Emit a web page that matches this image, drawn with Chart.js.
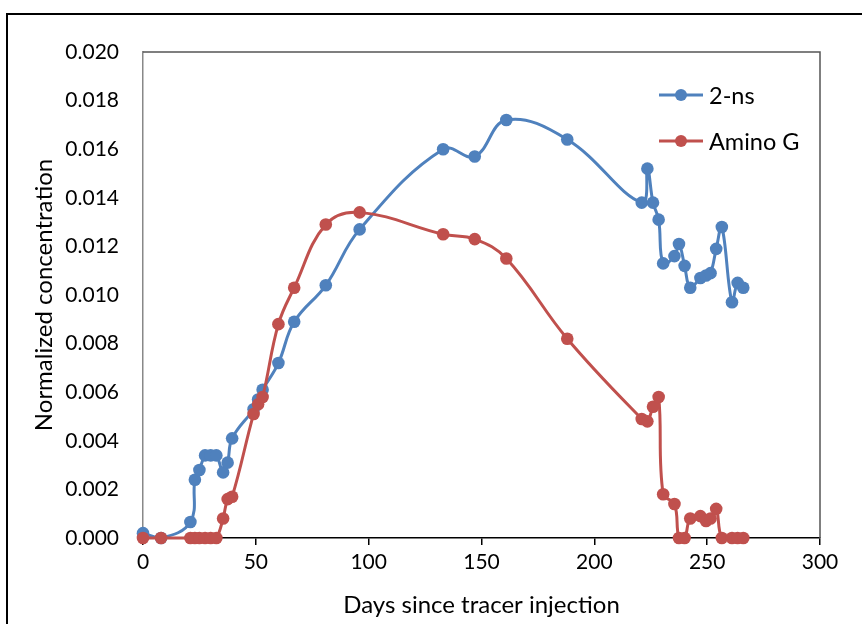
<!DOCTYPE html>
<html>
<head>
<meta charset="utf-8">
<script src="https://cdn.jsdelivr.net/npm/chart.js@4.4.0/dist/chart.umd.min.js"></script>
<style>
  html, body { margin: 0; padding: 0; background: #fff; overflow: hidden; }
  #frame { position: absolute; left: 6px; top: 13px; width: 900px; height: 700px; border: 2px solid #000; }
  #myChart { position: absolute; left: 0; top: 0; }
</style>
</head>
<body>
<div id="frame"></div>
<canvas id="myChart" width="862" height="624"></canvas>
<script>
'use strict';

// Sampling days (shared by both tracers)
let days = [0, 8, 21, 23, 25, 27.5, 30, 32.5, 35.5, 37.5, 39.5, 49, 51, 53, 60, 67, 81, 96,
  133, 147, 161, 188, 221, 223.5, 226, 228.5, 230.5, 235.5, 237.5, 240, 242.5, 247, 249.5,
  251.5, 254, 256.5, 261, 263.5, 266];

let twoNs = [0.0002, 0.0000, 0.00066, 0.0024, 0.0028, 0.0034, 0.0034, 0.0034, 0.0027, 0.0031,
  0.0041, 0.0053, 0.0057, 0.0061, 0.0072, 0.0089, 0.0104, 0.0127, 0.0160, 0.0157, 0.0172,
  0.0164, 0.0138, 0.0152, 0.0138, 0.0131, 0.0113, 0.0116, 0.0121, 0.0112, 0.0103, 0.0107,
  0.0108, 0.0109, 0.0119, 0.0128, 0.0097, 0.0105, 0.0103];

let aminoG = [0, 0, 0, 0, 0, 0, 0, 0, 0.0008, 0.0016, 0.0017, 0.0051, 0.0055, 0.0058, 0.0088,
  0.0103, 0.0129, 0.0134, 0.0125, 0.0123, 0.0115, 0.0082, 0.0049, 0.0048, 0.0054, 0.0058,
  0.0018, 0.0014, 0, 0, 0.0008, 0.0009, 0.0007, 0.0008, 0.0012, 0, 0, 0, 0];

let seriesNames = ['2-ns', 'Amino G'];
let seriesColors = ['#4F81BD', '#C0504D'];

let xTicks = [0, 50, 100, 150, 200, 250, 300];
let yMax = 0.020;

let fontFamily = 'Lato, "Liberation Sans", sans-serif';

function toPoints(values) {
  return days.map((d, i) => ({ x: d, y: values[i] }));
}

// frame on top/right of plot area + legend inside
let framePlugin = {
  id: 'framePlugin',
  afterDraw(chart) {
    let ctx = chart.ctx;
    let a = chart.chartArea;
    ctx.save();
    ctx.strokeStyle = '#555';
    ctx.lineWidth = 1.5;
    ctx.beginPath();
    ctx.moveTo(a.left, a.top);
    ctx.lineTo(a.right, a.top);
    ctx.lineTo(a.right, a.bottom);
    ctx.stroke();

    // legend
    ctx.font = '23.5px ' + fontFamily;
    ctx.textBaseline = 'middle';
    ctx.textAlign = 'left';
    let legendY = [95, 141];
    for (let i = 0; i < seriesNames.length; i++) {
      let y = legendY[i];
      ctx.strokeStyle = seriesColors[i];
      ctx.fillStyle = seriesColors[i];
      ctx.lineWidth = 3;
      ctx.beginPath();
      ctx.moveTo(659, y);
      ctx.lineTo(703, y);
      ctx.stroke();
      ctx.beginPath();
      ctx.arc(681, y, 6, 0, Math.PI * 2);
      ctx.fill();
      ctx.fillStyle = '#000';
      ctx.fillText(seriesNames[i], 709, y + 1);
    }
    ctx.restore();
  }
};

let chartObject = {
  type: 'line',
  data: {
    datasets: [{
      label: seriesNames[0],
      data: toPoints(twoNs),
      borderColor: seriesColors[0],
      backgroundColor: seriesColors[0],
      borderWidth: 3,
      pointRadius: 6.3,
      pointBorderWidth: 0,
      tension: 0.4,
      clip: false,
      order: 1
    },
    {
      label: seriesNames[1],
      data: toPoints(aminoG),
      borderColor: seriesColors[1],
      backgroundColor: seriesColors[1],
      borderWidth: 3,
      pointRadius: 6.3,
      pointBorderWidth: 0,
      tension: 0.4,
      clip: false,
      order: 0
    }]
  },
  options: {
    responsive: false,
    animation: false,
    layout: { padding: { left: 0, top: 52, right: 42, bottom: 0 } },
    plugins: {
      legend: { display: false },
      tooltip: { enabled: false }
    },
    scales: {
      x: {
        type: 'linear',
        min: 0,
        max: 300,
        afterFit(scale) { scale.height = 86; },
        afterBuildTicks(scale) { scale.ticks = xTicks.map(v => ({ value: v })); },
        grid: { drawOnChartArea: false, drawTicks: true, tickLength: 7, color: '#000', lineWidth: 1.5 },
        border: { display: true, color: '#000', width: 1.5 },
        ticks: { color: '#000', padding: 5, font: { family: fontFamily, size: 21 }, maxRotation: 0 },
        title: {
          display: true,
          text: 'Days since tracer injection',
          color: '#000',
          font: { family: fontFamily, size: 24 },
          padding: { top: 0, bottom: 4 }
        }
      },
      y: {
        min: 0,
        max: yMax,
        afterFit(scale) { scale.width = 143; },
        grid: { display: false, drawTicks: false },
        border: { display: true, color: '#888', width: 1.5 },
        ticks: {
          stepSize: 0.002,
          padding: 24,
          color: '#000',
          font: { family: fontFamily, size: 21 },
          callback: v => v.toFixed(3)
        },
        title: {
          display: true,
          text: 'Normalized concentration',
          color: '#000',
          font: { family: fontFamily, size: 24 },
          padding: { top: 30, bottom: 0 }
        }
      }
    }
  },
  plugins: [framePlugin]
};

let ctx = document.getElementById('myChart').getContext('2d');
let myChart = new Chart(ctx, chartObject);
</script>
</body>
</html>
